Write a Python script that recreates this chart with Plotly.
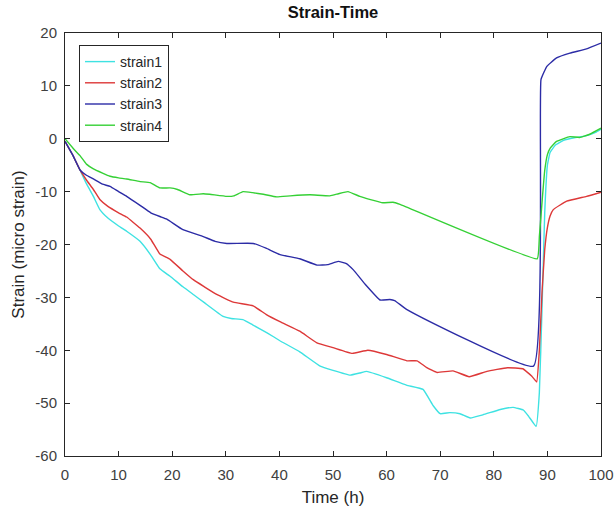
import plotly.graph_objects as go

# ---- data ----
time_strain1 = [0, 1.5, 2.8, 4, 5.3, 6.5, 8, 10, 11.5, 14, 16, 17.7, 19.6, 22, 24, 26, 29.5, 31, 33.2, 35,
                37.7, 40.1, 43.8, 47.6, 50, 53.2, 55, 56.3, 60, 63.7, 66.8, 68.7, 70, 71.8, 73.7, 75.6, 78,
                81.2, 83.6, 85.5, 86.5, 87.9, 88.5, 89, 89.5, 90, 90.5, 91.5, 93, 95, 97, 99, 100]
strain1 = [-0.5, -3.2, -5.9, -8.5, -10.9, -13.4, -15, -16.5, -17.5, -19.4, -22, -24.6, -26, -28, -29.5, -31,
           -33.6, -34, -34.2, -35.2, -36.7, -38.2, -40.3, -43, -43.8, -44.7, -44.3, -44, -45.2, -46.6, -47.4,
           -50.5, -52, -51.8, -52, -52.8, -52.2, -51.2, -50.8, -51.3, -52.5, -54.4, -48, -32, -14, -5, -2.6,
           -1.2, -0.3, 0.2, 0.5, 1.2, 1.8]

time_strain2 = [0, 1.5, 2.8, 4, 5.3, 6.5, 8, 10, 11.5, 14, 16, 17.7, 19.6, 22, 24, 26, 28.4, 31.4, 35.1, 37.5,
                40.1, 43.8, 47, 50, 53.6, 56.5, 60, 63.8, 65.7, 67.5, 69.4, 72.4, 75.4, 78.7, 82.5, 85.4, 87.1,
                88, 88.5, 89, 89.5, 90, 90.5, 91.1, 93.6, 97.3, 100]
strain2 = [-0.5, -3.2, -5.9, -7.8, -9.6, -11.5, -12.8, -14, -14.8, -16.9, -19, -21.8, -22.8, -25, -26.7, -28,
           -29.5, -30.9, -31.6, -33.2, -34.6, -36.4, -38.6, -39.5, -40.6, -40, -40.8, -42, -42, -43.3, -44.2,
           -43.9, -45, -44, -43.3, -43.5, -44.9, -46, -40, -29, -21, -16.8, -14.6, -13.4, -11.8, -10.9, -10.1]

time_strain3 = [0, 1.5, 2.8, 4, 5.3, 7, 8.4, 10, 11.5, 14, 16, 17.7, 19, 22, 25.8, 28, 30.2, 35.1, 37.5, 40.1,
                43.8, 47, 49, 51, 52.5, 53.8, 56, 58.8, 60.6, 61.5, 63.8, 87.4, 88.8, 89.9, 91.7, 94.2, 97.3, 100]
strain3 = [-0.5, -3.2, -5.9, -6.9, -7.6, -8.6, -9, -10, -10.9, -12.6, -14, -14.7, -15.2, -17.2, -18.5, -19.4,
           -19.8, -19.8, -20.7, -21.9, -22.7, -23.9, -23.8, -23.2, -23.6, -24.8, -27.5, -30.5, -30.4, -30.6,
           -32.3, -43, 11.2, 13.7, 15.3, 16.2, 17, 18.1]

time_strain4 = [0, 1.5, 2.8, 4, 5.3, 7, 8.4, 10, 11.5, 14, 15.9, 17.7, 19.6, 21, 23.3, 25.8, 27, 30.2, 31.5,
                33.2, 35, 37, 39.5, 42, 45.7, 49.4, 51, 52.8, 55, 57, 59.3, 61.2, 62.5, 88.1, 88.5, 89, 89.5,
                90, 90.5, 91.7, 94.2, 96, 98, 100]
strain4 = [0, -1.8, -3.2, -4.8, -5.7, -6.5, -7.1, -7.4, -7.6, -8.1, -8.3, -9.3, -9.3, -9.6, -10.6, -10.4,
           -10.5, -10.9, -10.8, -10, -10.2, -10.5, -11, -10.8, -10.6, -10.8, -10.4, -10, -10.9, -11.5, -12.1,
           -12, -12.4, -22.7, -18.5, -12, -6, -3, -1.8, -0.5, 0.4, 0.25, 0.9, 2.0]

series_names = ["strain1", "strain2", "strain3", "strain4"]
series_colors = ["#3ee2e2", "#dd3838", "#2c2ca6", "#35d035"]

x_ticks = [0, 10, 20, 30, 40, 50, 60, 70, 80, 90, 100]
y_ticks = [20, 10, 0, -10, -20, -30, -40, -50, -60]

times = [time_strain1, time_strain2, time_strain3, time_strain4]
values = [strain1, strain2, strain3, strain4]

fig = go.Figure()
for name, color, t, v in zip(series_names, series_colors, times, values):
    fig.add_trace(go.Scatter(x=t, y=v, mode="lines", name=name,
                             line=dict(color=color, width=1.4, shape="spline", smoothing=0.3)))

font_family = "Liberation Sans, Arial, sans-serif"
axis_common = dict(
    showline=True, linecolor="#262626", linewidth=1, mirror="ticks",
    ticks="inside", ticklen=5, tickcolor="#262626", tickwidth=1,
    showgrid=False, zeroline=False, automargin=False,
    tickfont=dict(family=font_family, size=15, color="#404040"),
)

fig.update_layout(
    width=616, height=512,
    paper_bgcolor="white", plot_bgcolor="white",
    margin=dict(l=65, r=15, t=33, b=56),
    title=dict(text="<b>Strain-Time</b>", x=333 / 616, xanchor="center",
               y=1 - 12 / 512, yanchor="middle", yref="container",
               font=dict(family=font_family, size=16.5, color="#111111")),
    xaxis=dict(range=[0, 100], tickvals=x_ticks, ticktext=[str(v) for v in x_ticks],
               ticklabelstandoff=5,
               title=dict(text="Time (h)", standoff=9,
                          font=dict(family=font_family, size=17, color="#262626")),
               **axis_common),
    yaxis=dict(range=[-60, 20], tickvals=y_ticks, ticktext=[str(v) for v in y_ticks],
               title=dict(text="Strain (micro strain)", standoff=6,
                          font=dict(family=font_family, size=17, color="#262626")),
               ticklabelstandoff=4,
               **axis_common),
    legend=dict(x=(79 - 65) / 536, y=(456 - 45) / 423, xanchor="left", yanchor="top",
                bgcolor="white", bordercolor="#262626", borderwidth=1,
                font=dict(family=font_family, size=14, color="#262626"),
                tracegroupgap=0, entrywidth=100, entrywidthmode="pixels"),
    showlegend=True,
)

fig.write_html("out.html")
